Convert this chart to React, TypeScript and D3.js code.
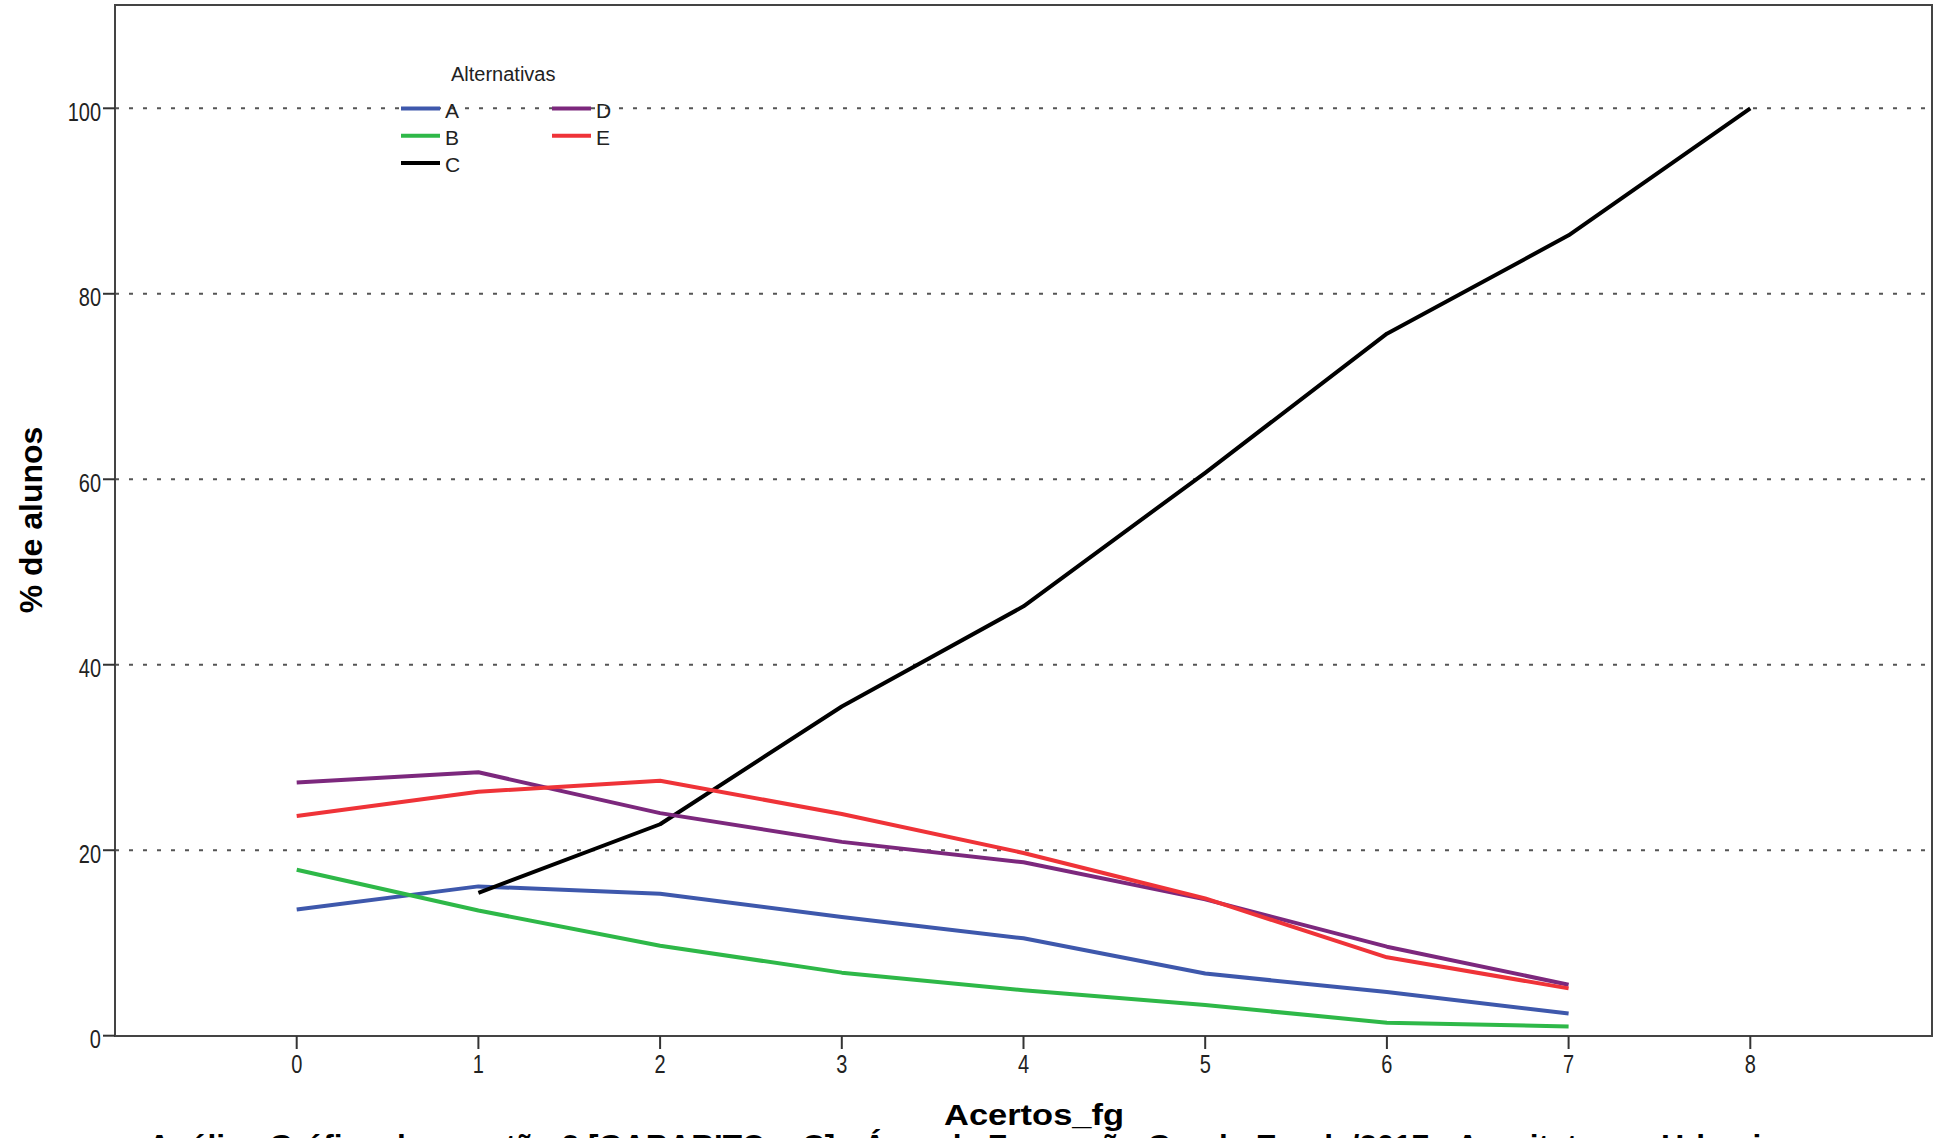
import React from "react";
import * as d3 from "d3";

const categories = [0, 1, 2, 3, 4, 5, 6, 7, 8];
const seriesA = [13.6, 16.1, 15.3, 12.8, 10.5, 6.7, 4.7, 2.4];
const seriesB = [17.9, 13.5, 9.7, 6.8, 4.9, 3.3, 1.4, 1.0];
const seriesC = [null, 15.4, 22.8, 35.5, 46.3, 60.7, 75.7, 86.3, 100];
const seriesD = [27.3, 28.4, 24.0, 20.9, 18.7, 14.7, 9.6, 5.5];
const seriesE = [23.7, 26.3, 27.5, 23.9, 19.7, 14.8, 8.45, 5.1];
const yTicks = [0, 20, 40, 60, 80, 100];
const gridTicks = [20, 40, 60, 80, 100];

const series = [
  { name: "A", values: seriesA, color: "#3E58AC" },
  { name: "B", values: seriesB, color: "#2EB848" },
  { name: "C", values: seriesC, color: "#000000" },
  { name: "D", values: seriesD, color: "#7C287D" },
  { name: "E", values: seriesE, color: "#EF3338" },
];

const W = 1937;
const H = 1138;
const left = 115, right = 1932, top = 5, bottom = 1036;

export default function App() {
  const x = d3.scaleLinear().domain([-1, 9]).range([left, right]);
  const y = d3.scaleLinear().domain([0, 100]).range([1035.7, 108.3]);
  const line = d3
    .line<number | null>()
    .defined((d) => d !== null)
    .x((_, i) => x(categories[i]))
    .y((d) => y(d as number));

  const sans = "'Liberation Sans', Arial, sans-serif";

  const legendPos = [
    { lx: 401, row: 0 },
    { lx: 401, row: 1 },
    { lx: 401, row: 2 },
    { lx: 552, row: 0 },
    { lx: 552, row: 1 },
  ];

  return (
    <svg
      width={W}
      height={H}
      style={{ position: "absolute", left: 0, top: 0, background: "#fff" }}
    >
      <rect x={0} y={0} width={W} height={H} fill="#fff" />
      {gridTicks.map((t) => (
        <line
          key={"g" + t}
          x1={left}
          x2={right}
          y1={y(t)}
          y2={y(t)}
          stroke="#555"
          strokeWidth={2}
          strokeDasharray="4 10"
        />
      ))}
      {/* frame */}
      <rect
        x={left}
        y={top}
        width={right - left}
        height={bottom - top}
        fill="none"
        stroke="#444"
        strokeWidth={2}
      />
      {/* y ticks */}
      {yTicks.map((t) => (
        <g key={"y" + t}>
          <line x1={103} x2={left} y1={y(t)} y2={y(t)} stroke="#333" strokeWidth={2} />
          <text
            transform={`translate(101,${y(t) + 12.5}) scale(0.8,1)`}
            textAnchor="end"
            fontFamily={sans}
            fontSize={25}
            fill="#222"
          >
            {t}
          </text>
        </g>
      ))}
      {/* x ticks */}
      {categories.map((c) => (
        <g key={"x" + c}>
          <line x1={x(c)} x2={x(c)} y1={bottom} y2={1049} stroke="#333" strokeWidth={2} />
          <text
            transform={`translate(${x(c)},1073) scale(0.8,1)`}
            textAnchor="middle"
            fontFamily={sans}
            fontSize={25}
            fill="#222"
          >
            {c}
          </text>
        </g>
      ))}
      {/* series */}
      {series.map((s) => (
        <path
          key={s.name}
          d={line(s.values as (number | null)[]) || ""}
          fill="none"
          stroke={s.color}
          strokeWidth={4}
          strokeLinejoin="round"
        />
      ))}
      {/* legend */}
      <text x={451} y={80.5} fontFamily={sans} fontSize={20} fill="#222">
        Alternativas
      </text>
      {series.map((s, i) => {
        const p = legendPos[i];
        const ly = 108.5 + p.row * 27.2;
        return (
          <g key={"l" + s.name}>
            <line x1={p.lx} x2={p.lx + 39} y1={ly} y2={ly} stroke={s.color} strokeWidth={4} />
            <text x={p.lx + 44} y={ly + 9} fontFamily={sans} fontSize={21} fill="#222">
              {s.name}
            </text>
          </g>
        );
      })}
      {/* axis titles */}
      <text
        transform={`translate(42,520) rotate(-90)`}
        textAnchor="middle"
        fontFamily={sans}
        fontWeight="bold"
        fontSize={32}
        fill="#000"
      >
        % de alunos
      </text>
      <text
        x={1034}
        y={1125}
        textAnchor="middle"
        fontFamily={sans}
        fontWeight="bold"
        fontSize={30}
        textLength={180}
        lengthAdjust="spacingAndGlyphs"
        fill="#000"
      >
        Acertos_fg
      </text>
      <text
        x={987}
        y={1157}
        textAnchor="middle"
        fontFamily={sans}
        fontWeight="bold"
        fontSize={31}
        textLength={1678}
        lengthAdjust="spacingAndGlyphs"
        fill="#000"
      >
        Análise Gráfica da questão 2 [GABARITO = C] - Área de Formação Geral - Enade/2017 - Arquitetura e Urbanismo
      </text>
    </svg>
  );
}
